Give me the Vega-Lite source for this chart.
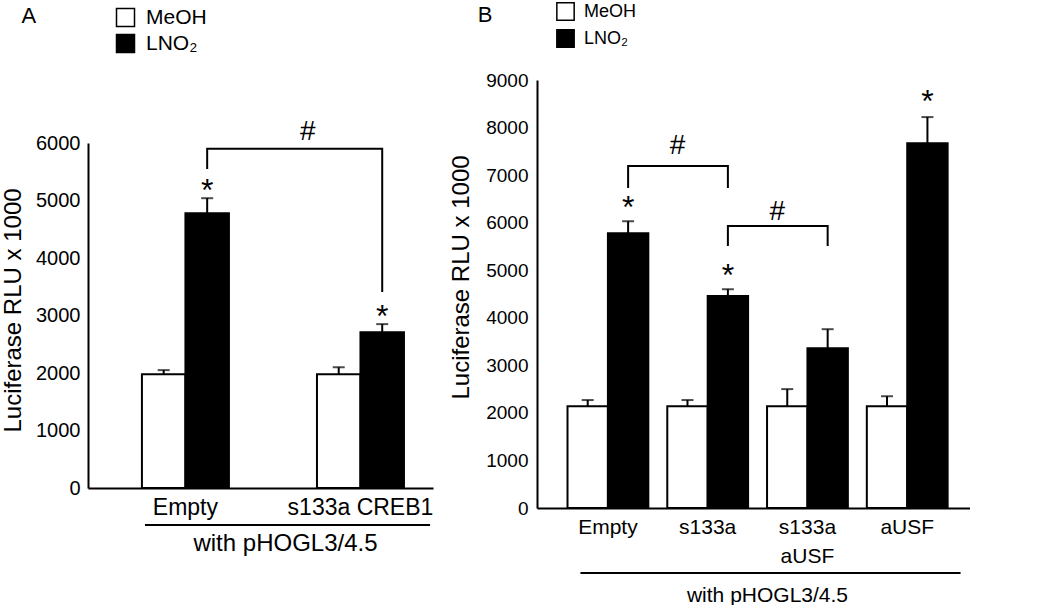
{
  "$schema": "https://vega.github.io/schema/vega-lite/v6.json",
  "background": "white",
  "padding": {"left": 1, "top": 2, "right": 0, "bottom": 0},
  "config": {
    "font": "Liberation Sans",
    "view": {"stroke": null},
    "axis": {"domainColor": "black", "domainWidth": 2, "ticks": false, "grid": false, "labelColor": "black", "titleColor": "black", "titleFontWeight": "normal", "labelFont": "Liberation Sans", "titleFont": "Liberation Sans"},
    "legend": {"padding": 0, "labelColor": "black", "labelFont": "Liberation Sans"},
    "title": {"color": "black", "fontWeight": "normal", "font": "Liberation Sans"}
  },
  "datasets": {
    "barsA": [
      {"construct": "Empty", "treatment": "MeOH", "value": 1980, "err": 2050},
      {"construct": "Empty", "treatment": "LNO₂", "value": 4780, "err": 5040},
      {"construct": "s133a CREB1", "treatment": "MeOH", "value": 1980, "err": 2100},
      {"construct": "s133a CREB1", "treatment": "LNO₂", "value": 2710, "err": 2850}
    ],
    "bracketA": [
      {"id": 1, "seq": 1, "construct": "Empty", "treatment": "LNO₂", "y": 5550},
      {"id": 1, "seq": 2, "construct": "Empty", "treatment": "LNO₂", "y": 5900},
      {"id": 1, "seq": 3, "construct": "s133a CREB1", "treatment": "LNO₂", "y": 5900},
      {"id": 1, "seq": 4, "construct": "s133a CREB1", "treatment": "LNO₂", "y": 3410}
    ],
    "starsA": [
      {"construct": "Empty", "treatment": "LNO₂", "y": 5300, "label": "*"},
      {"construct": "s133a CREB1", "treatment": "LNO₂", "y": 3110, "label": "*"}
    ],
    "hashA": [
      {"construct": "s133a CREB1", "treatment": "MeOH", "y": 6226, "label": "#"}
    ],
    "barsB": [
      {"construct": "Empty", "treatment": "MeOH", "value": 2140, "err": 2270},
      {"construct": "Empty", "treatment": "LNO₂", "value": 5780, "err": 6030},
      {"construct": "s133a", "treatment": "MeOH", "value": 2140, "err": 2270},
      {"construct": "s133a", "treatment": "LNO₂", "value": 4460, "err": 4600},
      {"construct": "s133a aUSF", "treatment": "MeOH", "value": 2140, "err": 2500},
      {"construct": "s133a aUSF", "treatment": "LNO₂", "value": 3360, "err": 3760},
      {"construct": "aUSF", "treatment": "MeOH", "value": 2140, "err": 2350},
      {"construct": "aUSF", "treatment": "LNO₂", "value": 7670, "err": 8220}
    ],
    "bracketB": [
      {"id": 1, "seq": 1, "construct": "Empty", "treatment": "LNO₂", "y": 6730},
      {"id": 1, "seq": 2, "construct": "Empty", "treatment": "LNO₂", "y": 7190},
      {"id": 1, "seq": 3, "construct": "s133a", "treatment": "LNO₂", "y": 7190},
      {"id": 1, "seq": 4, "construct": "s133a", "treatment": "LNO₂", "y": 6730},
      {"id": 2, "seq": 1, "construct": "s133a", "treatment": "LNO₂", "y": 5510},
      {"id": 2, "seq": 2, "construct": "s133a", "treatment": "LNO₂", "y": 5930},
      {"id": 2, "seq": 3, "construct": "s133a aUSF", "treatment": "LNO₂", "y": 5930},
      {"id": 2, "seq": 4, "construct": "s133a aUSF", "treatment": "LNO₂", "y": 5510}
    ],
    "starsB": [
      {"construct": "Empty", "treatment": "LNO₂", "y": 6480, "label": "*"},
      {"construct": "s133a", "treatment": "LNO₂", "y": 5050, "label": "*"},
      {"construct": "aUSF", "treatment": "LNO₂", "y": 8700, "label": "*"}
    ],
    "hashB": [
      {"construct": "s133a", "treatment": "MeOH", "y": 7653, "label": "#"},
      {"construct": "s133a aUSF", "treatment": "MeOH", "y": 6266, "label": "#"}
    ]
  },
  "spacing": 16,
  "resolve": {
    "scale": {"x": "independent", "y": "independent", "xOffset": "independent", "fill": "independent"},
    "legend": {"fill": "independent"},
    "axis": {"x": "independent", "y": "independent"}
  },
  "hconcat": [
    {
      "width": 345,
      "height": 408,
      "title": {"text": "A", "anchor": "start", "fontSize": 22, "offset": 0, "dx": 20, "dy": 21},
      "encoding": {
        "x": {"field": "construct", "type": "nominal", "sort": null,
          "scale": {"domain": ["Empty", "s133a CREB1"], "paddingInner": 0.503, "paddingOuter": 0.237, "align": 0.65},
          "axis": {"title": "with pHOGL3/4.5", "titleFontSize": 24, "titleX": 197, "titlePadding": 12, "labelFontSize": 23, "labelPadding": 8, "labelAngle": 0}},
        "xOffset": {"field": "treatment", "type": "nominal", "sort": null, "scale": {"domain": ["MeOH", "LNO₂"], "paddingInner": 0, "paddingOuter": 0}}
      },
      "layer": [
        {
          "data": {"name": "barsA"},
          "mark": {"type": "bar", "stroke": "black", "strokeWidth": 2},
          "encoding": {
            "y": {"field": "value", "type": "quantitative",
              "scale": {"domain": [0, 6000], "nice": false, "range": [408, 63]},
              "axis": {"title": "Luciferase RLU x 1000", "format": "d", "titleFontSize": 24, "titleY": 230, "titlePadding": 10, "labelFontSize": 20, "labelPadding": 8, "values": [0, 1000, 2000, 3000, 4000, 5000, 6000]}},
            "fill": {"field": "treatment", "type": "nominal",
              "scale": {"domain": ["MeOH", "LNO₂"], "range": ["white", "black"]},
              "legend": {"title": null, "orient": "none", "legendX": 27, "legendY": -73, "symbolType": "square", "symbolSize": 324, "symbolStrokeColor": "black", "symbolStrokeWidth": 1.5, "labelFontSize": 21, "labelOffset": 10, "rowPadding": 1}}
          }
        },
        {
          "data": {"name": "barsA"},
          "mark": {"type": "rule", "color": "black", "strokeWidth": 2},
          "encoding": {"y": {"field": "value", "type": "quantitative"}, "y2": {"field": "err"}}
        },
        {
          "data": {"name": "barsA"},
          "mark": {"type": "tick", "color": "black", "thickness": 2, "size": 12},
          "encoding": {"y": {"field": "err", "type": "quantitative"}}
        },
        {
          "data": {"name": "bracketA"},
          "mark": {"type": "line", "color": "black", "strokeWidth": 2},
          "encoding": {"y": {"field": "y", "type": "quantitative"}, "detail": {"field": "id"}, "order": {"field": "seq"}}
        },
        {
          "data": {"name": "starsA"},
          "mark": {"type": "text", "fontSize": 32, "dy": 18, "baseline": "alphabetic", "color": "black"},
          "encoding": {"y": {"field": "y", "type": "quantitative"}, "text": {"field": "label"}}
        },
        {
          "data": {"name": "hashA"},
          "mark": {"type": "text", "fontSize": 28, "dx": -31, "dy": 10, "baseline": "alphabetic", "color": "black"},
          "encoding": {"y": {"field": "y", "type": "quantitative"}, "text": {"field": "label"}}
        },
        {
          "data": {"values": [{}]},
          "mark": {"type": "rule", "color": "black", "strokeWidth": 2},
          "encoding": {
            "x": {"datum": "Empty", "type": "nominal", "bandPosition": 0.035},
            "x2": {"datum": "s133a CREB1", "bandPosition": 1.3},
            "xOffset": null,
            "y": {"datum": -643, "type": "quantitative"}
          }
        }
      ]
    },
    {
      "width": 433,
      "height": 428,
      "title": {"text": "B", "anchor": "start", "fontSize": 22, "offset": 0, "dx": 28, "dy": 25},
      "encoding": {
        "x": {"field": "construct", "type": "nominal", "sort": null,
          "scale": {"domain": ["Empty", "s133a", "s133a aUSF", "aUSF"], "paddingInner": 0.19, "paddingOuter": 0.265, "align": 0.577},
          "axis": {"title": "with pHOGL3/4.5", "titleFontSize": 21, "titleX": 230, "titlePadding": 18, "labelFontSize": 21, "labelPadding": 8, "labelAngle": 0, "labelLineHeight": 29,
            "labelExpr": "datum.value == 's133a aUSF' ? ['s133a', 'aUSF'] : datum.value"}},
        "xOffset": {"field": "treatment", "type": "nominal", "sort": null, "scale": {"domain": ["MeOH", "LNO₂"], "paddingInner": 0, "paddingOuter": 0}}
      },
      "layer": [
        {
          "data": {"name": "barsB"},
          "mark": {"type": "bar", "stroke": "black", "strokeWidth": 2},
          "encoding": {
            "y": {"field": "value", "type": "quantitative",
              "scale": {"domain": [0, 9000], "nice": false},
              "axis": {"title": "Luciferase RLU x 1000", "format": "d", "titleFontSize": 24, "titleY": 197, "titlePadding": 12, "labelFontSize": 19, "labelPadding": 9, "values": [0, 1000, 2000, 3000, 4000, 5000, 6000, 7000, 8000, 9000]}},
            "fill": {"field": "treatment", "type": "nominal",
              "scale": {"domain": ["MeOH", "LNO₂"], "range": ["white", "black"]},
              "legend": {"title": null, "orient": "none", "legendX": 19, "legendY": -78, "symbolType": "square", "symbolSize": 300, "symbolStrokeColor": "black", "symbolStrokeWidth": 1.5, "labelFontSize": 18, "labelOffset": 9, "rowPadding": 2}}
          }
        },
        {
          "data": {"name": "barsB"},
          "mark": {"type": "rule", "color": "black", "strokeWidth": 2},
          "encoding": {"y": {"field": "value", "type": "quantitative"}, "y2": {"field": "err"}}
        },
        {
          "data": {"name": "barsB"},
          "mark": {"type": "tick", "color": "black", "thickness": 2, "size": 12},
          "encoding": {"y": {"field": "err", "type": "quantitative"}}
        },
        {
          "data": {"name": "bracketB"},
          "mark": {"type": "line", "color": "black", "strokeWidth": 2},
          "encoding": {"y": {"field": "y", "type": "quantitative"}, "detail": {"field": "id"}, "order": {"field": "seq"}}
        },
        {
          "data": {"name": "starsB"},
          "mark": {"type": "text", "fontSize": 32, "dy": 18, "baseline": "alphabetic", "color": "black"},
          "encoding": {"y": {"field": "y", "type": "quantitative"}, "text": {"field": "label"}}
        },
        {
          "data": {"name": "hashB"},
          "mark": {"type": "text", "fontSize": 28, "dx": -10, "dy": 10, "baseline": "alphabetic", "color": "black"},
          "encoding": {"y": {"field": "y", "type": "quantitative"}, "text": {"field": "label"}}
        },
        {
          "data": {"values": [{}]},
          "mark": {"type": "rule", "color": "black", "strokeWidth": 2},
          "encoding": {
            "x": {"datum": "Empty", "type": "nominal", "bandPosition": 0.16},
            "x2": {"datum": "aUSF", "bandPosition": 1.16},
            "xOffset": null,
            "y": {"datum": -1367, "type": "quantitative"}
          }
        }
      ]
    }
  ]
}
